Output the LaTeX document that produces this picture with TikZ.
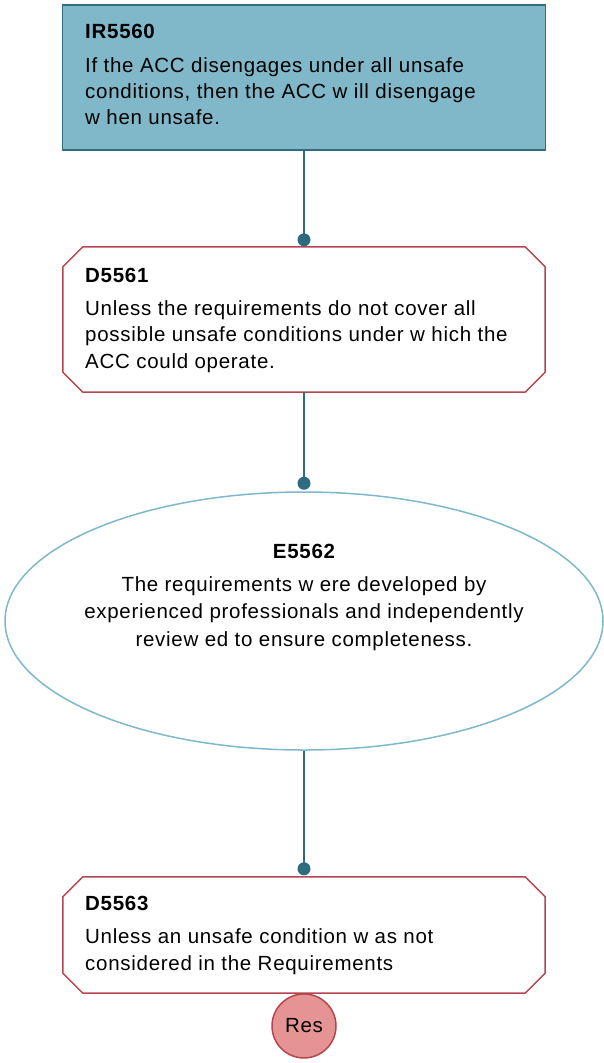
\documentclass[tikz,border=0pt]{standalone}
\usepackage{fontspec}
\setmainfont[LetterSpace=3.5]{Liberation Sans}
\usetikzlibrary{shapes.geometric,calc}
\definecolor{goalfill}{HTML}{80B8C9}
\definecolor{goalline}{HTML}{306C82}
\definecolor{linkcol}{HTML}{2E6B80}
\definecolor{evline}{HTML}{7FB8CB}
\definecolor{defline}{HTML}{B5454F}
\definecolor{resfill}{HTML}{E59393}
\begin{document}
\begin{tikzpicture}[x=1pt,y=-1pt,
  txt/.style={font=\fontsize{20.5}{26}\selectfont, inner sep=0pt, text=black},
  ttl/.style={txt, font=\fontsize{20.5}{26}\selectfont\bfseries},
  goalbox/.style={draw=goalline, fill=goalfill, line width=1.5pt, rectangle, inner sep=0pt},
  anchorbox/.style={rectangle, inner sep=0pt},
  defpath/.style={draw=defline, fill=white, line width=1.5pt, line join=miter},
  evbox/.style={draw=evline, fill=white, line width=1.5pt, ellipse, inner sep=0pt},
  resbox/.style={draw=defline, fill=resfill, line width=1.5pt, circle, inner sep=0pt,
    minimum size=64pt, font=\fontsize{20.5}{22}\selectfont},
  link/.style={draw=linkcol, line width=1.5pt},
  linkdot/.style={fill=linkcol}
]
\useasboundingbox (0,0) rectangle (603,1063);

% nodes
\node[goalbox, minimum width=483pt, minimum height=145pt] (ir) at (304,77.5) {};
\node[anchorbox, minimum width=482pt, minimum height=145pt] (d1) at (304,319.5) {};
\node[evbox, minimum width=598pt, minimum height=258pt] (ev) at (304,621) {};
\node[anchorbox, minimum width=482pt, minimum height=116pt] (d2) at (304,935) {};

% octagonal defeater outlines
\foreach \n in {d1,d2}{
  \path[defpath]
    ($(\n.north west)+(20,0)$) -- ($(\n.north east)+(-20,0)$) --
    ($(\n.north east)+(0,20)$) -- ($(\n.south east)+(0,-20)$) --
    ($(\n.south east)+(-20,0)$) -- ($(\n.south west)+(20,0)$) --
    ($(\n.south west)+(0,-20)$) -- ($(\n.north west)+(0,20)$) -- cycle;
}

\node[resbox, anchor=north] (res) at (d2.south) {Res};

% connectors with dot ends
\coordinate (d1in) at ([yshift=7pt]d1.north);
\coordinate (evin) at ([yshift=8pt]ev.north);
\coordinate (d2in) at ([yshift=8pt]d2.north);
\draw[link] (ir.south) -- (d1in);
\draw[link] (d1.south) -- (evin);
\draw[link] (ev.south) -- (d2in);
\fill[linkdot] (d1in) circle (6.5pt);
\fill[linkdot] (evin) circle (6.5pt);
\fill[linkdot] (d2in) circle (6.5pt);

% texts
\node[ttl, anchor=base west] (irt) at (85,38) {IR5560};
\node[txt, anchor=base west] (ir1) at (85,72) {If the ACC disengages under all unsafe};
\node[txt, anchor=base west] (ir2) at (85,98) {conditions, then the ACC w ill disengage};
\node[txt, anchor=base west] (ir3) at (85,124) {w hen unsafe.};

\node[ttl, anchor=base west] (d1t) at (85,282) {D5561};
\node[txt, anchor=base west] (d11) at (85,315) {Unless the requirements do not cover all};
\node[txt, anchor=base west] (d12) at (85,341.5) {possible unsafe conditions under w hich the};
\node[txt, anchor=base west] (d13) at (85,368) {ACC could operate.};

\node[ttl, anchor=base] (evt) at (304,558) {E5562};
\node[txt, anchor=base] (ev1) at (304,591) {The requirements w ere developed by};
\node[txt, anchor=base] (ev2) at (304,618.5) {experienced professionals and independently};
\node[txt, anchor=base] (ev3) at (304,646) {review ed to ensure completeness.};

\node[ttl, anchor=base west] (d2t) at (85,910) {D5563};
\node[txt, anchor=base west] (d21) at (85,943) {Unless an unsafe condition w as not};
\node[txt, anchor=base west] (d22) at (85,970) {considered in the Requirements};
\end{tikzpicture}
\end{document}
